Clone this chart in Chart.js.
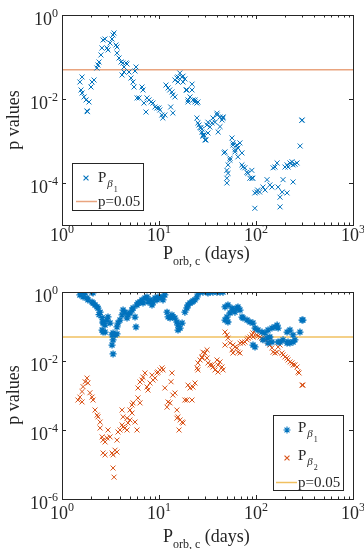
<!DOCTYPE html>
<html><head><meta charset="utf-8">
<script src="https://cdn.jsdelivr.net/npm/chart.js@4.4.0/dist/chart.umd.min.js"></script>
<style>
html,body{margin:0;padding:0;background:#fff;}
#wrap{position:relative;width:364px;height:549px;overflow:hidden;}
canvas{position:absolute;left:0;}
</style>
</head><body>
<div id="wrap">
<canvas id="c1" width="364" height="274" style="top:0px"></canvas>
<canvas id="c2" width="364" height="275" style="top:274px"></canvas>
</div>
<script>
// ---------------- DATA ----------------
const xTickValues = [1, 10, 100, 1000];
const xTickExponents = ['0', '1', '2', '3'];
const yTickValuesTop = [1, 1e-2, 1e-4];
const yTickExponentsTop = ['0', '-2', '-4'];
const yTickValuesBottom = [1, 1e-2, 1e-4, 1e-6];
const yTickExponentsBottom = ['0', '-2', '-4', '-6'];
const threshold = 0.05;

// top panel: p_beta1 vs orbital period
const topPeriod = [1.53,1.61,1.57,1.61,1.69,1.77,1.81,1.83,1.90,1.99,2.04,2.14,2.29,2.35,2.41,2.52,2.58,2.65,2.77,2.91,2.98,3.13,3.28,3.36,3.44,3.60,3.69,3.69,3.87,4.06,4.25,4.36,4.16,4.36,4.57,4.68,4.91,5.14,5.40,5.53,5.66,5.80,5.94,6.23,6.68,6.84,7.0,7.34,7.52,7.88,8.26,8.66,9.08,9.52,9.98,10.2,10.7,10.96,11.5,11.8,12.4,12.9,13.6,13.9,13.2,13.9,14.6,15.3,15.7,16.4,17.2,17.7,19.0,19.9,20.9,21.9,22.4,23.5,24.6,25.2,24.6,25.8,27.0,28.4,31.2,33.5,36.0,39.8,42.7,44.7,45.8,56.5,299,27.7,29.1,30.5,32.0,40.7,57.9,60.7,63.6,68.3,65.1,71.6,46.9,53.9,51.5,50.1,51.5,50.1,50.1,71.6,73.3,76.8,80.5,82.4,90.6,86.4,90.6,92.8,97.3,102,104,109,118,124,130,139,146,150,157,165,169,177,186,190,199,209,214,224,235,241,253,265,241,209,177,97.3,285,15.7,17.7,18.5,14.6,19.4,21.9,23.5,19.9,25.2,26.5,27.7,28.4,29.8,32.0,35.2,37.8,39.6,42.6,45.7,57.9,60.7,65.2,54.0,47.9,297];
const topPBeta1 = [0.0254,0.0334,0.0164,0.0139,0.0112,0.0095,0.0052,0.0050,0.0085,0.0193,0.0254,0.0283,0.0547,0.0645,0.076,0.112,0.164,0.254,0.268,0.164,0.147,0.215,0.268,0.334,0.373,0.193,0.173,0.124,0.0946,0.076,0.072,0.0578,0.0373,0.0439,0.072,0.068,0.0439,0.0316,0.0254,0.0193,0.0464,0.0578,0.0106,0.0106,0.0193,0.0164,0.008,0.0049,0.0106,0.0095,0.0085,0.008,0.00645,0.0061,0.0061,0.00547,0.00416,0.00353,0.00416,0.0215,0.0183,0.0164,0.0147,0.0125,0.00645,0.00464,0.0283,0.0316,0.0254,0.0416,0.0334,0.0254,0.0164,0.0095,0.0112,0.0164,0.0095,0.0095,0.008,0.0085,0.00353,0.0024,0.00204,0.00139,0.0024,0.00215,0.00353,0.00416,0.00373,0.00316,0.00373,0.00118,0.00316,0.00164,0.00139,0.00106,0.00155,0.00164,0.0009,0.00055,0.0008,0.0009,0.00042,0.00052,0.00052,0.00035,0.00027,0.0002,0.00017,0.00013,0.0001,0.00027,0.00024,0.00023,0.00018,0.00017,0.0002,0.00013,0.00013,0.00013,0.000058,0.000061,0.000068,0.000061,0.00008,0.000068,0.00012,0.00009,0.00008,0.00023,0.00024,0.0003,0.00008,0.000046,0.000061,0.00012,0.00024,0.00027,0.00024,0.0003,0.00032,0.00027,0.00028,0.0003,0.000106,0.000058,0.000027,0.000025,0.00076,0.0334,0.035,0.030,0.0112,0.0164,0.0226,0.0085,0.0085,0.0027,0.0021,0.0019,0.0013,0.00106,0.0028,0.0027,0.0028,0.0046,0.0022,0.0035,0.0008,0.00062,0.00068,0.00039,0.00055,0.0031];

// bottom panel: p_beta1 (stars)
const bottomPeriodB1 = [1.61,1.53,1.65,1.73,2.04,2.09,1.81,1.85,2.04,2.09,2.19,2.30,2.35,2.47,2.41,2.59,2.65,2.65,2.78,2.65,2.98,2.91,3.13,3.28,3.36,3.52,3.69,3.36,3.28,3.36,3.69,3.78,3.96,4.16,4.26,4.46,4.68,4.79,5.02,5.27,5.40,5.79,5.66,5.93,6.07,6.37,6.68,6.84,7.17,7.52,7.70,8.08,8.47,8.68,9.10,9.54,9.77,10.24,10.74,11.0,11.5,12.1,12.4,13.0,13.6,13.9,14.6,15.3,15.7,15.7,16.5,17.3,18.5,19.4,19.9,20.9,21.9,22.4,23.5,24.7,25.2,26.5,28.4,31.3,32.0,33.6,36.0,39.6,42.6,45.7,47.9,51.4,56.6,57.9,60.7,63.7,65.2,68.4,54.0,50.2,47.9,51.4,71.7,73.5,80.8,86.7,93.1,97.7,104.9,115.3,123.8,133,146,157,165,169,118,130,139,133,146,209,224,241,252,284,298,190,209,224,177,93.1,97.7,169,214,241,305,2.59,2.78];
const bottomPBeta1 = [0.99,0.82,0.72,0.94,0.99,0.94,0.67,0.59,0.51,0.48,0.42,0.37,0.34,0.26,0.22,0.18,0.135,0.126,0.11,0.069,0.19,0.154,0.126,0.057,0.065,0.057,0.061,0.041,0.029,0.016,0.097,0.126,0.154,0.216,0.30,0.26,0.176,0.216,0.246,0.30,0.344,0.097,0.188,0.42,0.48,0.51,0.59,0.48,0.67,0.72,0.51,0.59,0.42,0.51,0.67,0.59,0.72,0.67,0.72,0.59,0.82,0.26,0.19,0.176,0.216,0.19,0.176,0.135,0.11,0.079,0.09,0.126,0.26,0.344,0.42,0.48,0.51,0.55,0.59,0.72,0.94,0.99,0.99,0.995,0.94,0.99,0.99,0.98,0.99,0.99,0.37,0.42,0.34,0.30,0.26,0.34,0.37,0.30,0.246,0.188,0.154,0.135,0.188,0.176,0.154,0.135,0.126,0.09,0.079,0.069,0.065,0.079,0.09,0.097,0.11,0.09,0.041,0.046,0.0496,0.033,0.0355,0.069,0.079,0.057,0.041,0.069,0.154,0.041,0.033,0.033,0.0355,0.029,0.0255,0.0355,0.0355,0.0355,0.154,0.079,0.069];

// bottom panel: p_beta2 (crosses)
const bottomPeriodB2 = [1.81,1.85,1.73,1.65,1.61,1.53,1.46,1.61,1.94,2.04,2.09,2.19,2.30,2.35,2.47,2.47,2.59,2.65,2.78,2.91,2.98,3.13,2.78,2.65,3.28,3.36,3.52,3.69,3.36,3.44,3.69,3.78,3.96,4.16,4.26,4.46,4.68,4.79,4.26,4.16,4.68,5.02,5.02,5.27,5.40,5.27,5.66,5.93,6.07,6.37,6.07,6.37,6.68,6.84,7.17,7.52,7.70,8.08,8.47,8.68,9.10,9.54,9.77,10.24,10.74,11.0,11.5,12.1,12.4,13.0,13.6,13.3,13.9,14.6,15.3,15.3,15.7,16.5,17.3,16.1,17.7,18.5,19.4,19.9,20.9,21.9,22.4,23.5,24.7,25.2,26.5,27.8,28.4,29.8,31.3,32.0,33.6,36.0,37.8,39.6,40.6,42.6,25.2,27.8,35.2,40.6,44.6,45.7,47.9,50.2,47.9,51.4,54.0,56.6,57.9,60.7,63.7,65.2,68.4,57.9,68.4,71.7,73.5,77.0,80.8,82.7,86.7,91.0,93.1,97.7,93.1,102,105,110,115,118,124,130,133,139,146,150,157,165,169,177,185,190,199,209,214,224,235,241,252,265,271,278,298,305,31.3];
const bottomPBeta2 = [0.0032,0.0023,0.0025,0.0018,0.0013,0.0009,0.00074,0.00065,0.0012,0.0009,0.00074,0.00038,0.00027,0.00024,0.00017,0.000114,0.000063,0.000051,0.000045,0.000059,0.0001,0.000063,0.000019,0.0000215,0.0000215,0.000019,0.000026,0.000023,0.0000079,0.0000043,0.000051,0.0000875,0.0001,0.00014,0.000122,0.000114,0.0001,0.00016,0.00024,0.00038,0.00022,0.000195,0.00038,0.00053,0.00061,0.00031,0.00017,0.0001,0.00085,0.00061,0.00165,0.00246,0.0028,0.0034,0.0045,0.00176,0.00144,0.0023,0.0039,0.0028,0.0032,0.0045,0.0048,0.0055,0.0063,0.0055,0.00165,0.00046,0.00065,0.00061,0.0045,0.0025,0.00103,0.00118,0.00038,0.00022,0.00024,0.000195,0.00017,0.0001,0.00016,0.00074,0.00074,0.002,0.00165,0.00074,0.00176,0.0023,0.0063,0.0088,0.0107,0.0122,0.018,0.017,0.0122,0.0088,0.0077,0.0067,0.0055,0.0107,0.0077,0.0094,0.0055,0.0131,0.0077,0.0048,0.0067,0.0055,0.069,0.057,0.029,0.046,0.033,0.021,0.017,0.0255,0.024,0.018,0.017,0.029,0.033,0.0355,0.033,0.0355,0.041,0.046,0.0496,0.057,0.065,0.079,0.0496,0.057,0.053,0.0496,0.046,0.043,0.041,0.046,0.0355,0.029,0.024,0.018,0.017,0.018,0.0255,0.029,0.017,0.015,0.0131,0.0122,0.0107,0.0094,0.0088,0.0077,0.0077,0.0067,0.0048,0.0045,0.002,0.002,0.021];

// ---------------- STYLE ----------------
const BLUE = '#0072BD';
const ORANGE = '#D95319';
const AXIS = '#262626';
const SERIF = '"Liberation Serif", "Times New Roman", serif';

function pts(xs, ys) { return xs.map((x, i) => ({ x: x, y: ys[i] })); }

function drawMarker(ctx, style, x, y, r, color, lw) {
  ctx.save();
  ctx.strokeStyle = color; ctx.lineWidth = lw;
  ctx.beginPath();
  const d = r * Math.SQRT1_2;
  ctx.moveTo(x - d, y - d); ctx.lineTo(x + d, y + d);
  ctx.moveTo(x - d, y + d); ctx.lineTo(x + d, y - d);
  if (style === 'star') {
    ctx.moveTo(x - r, y); ctx.lineTo(x + r, y);
    ctx.moveTo(x, y - r); ctx.lineTo(x, y + r);
  }
  ctx.stroke();
  ctx.restore();
}

function drawPowerLabel(ctx, exp, x, baseY, align) {
  ctx.font = '18px ' + SERIF;
  const w1 = ctx.measureText('10').width;
  ctx.font = '12px ' + SERIF;
  const w2 = ctx.measureText(exp).width;
  const w = w1 + w2;
  let sx = align === 'center' ? x - w / 2 : x - w;
  ctx.font = '18px ' + SERIF;
  ctx.fillText('10', sx, baseY);
  ctx.font = '12px ' + SERIF;
  ctx.fillText(exp, sx + w1, baseY - 8);
}

function makeAxesPlugin(cfg) {
  return {
    id: 'axesDecor',
    afterDraw(chart) {
      const ctx = chart.ctx;
      const a = chart.chartArea;
      const xs = chart.scales.x, ys = chart.scales.y;
      ctx.save();
      ctx.strokeStyle = AXIS; ctx.lineWidth = 1;
      ctx.strokeRect(Math.round(a.left) + 0.5, Math.round(a.top) + 0.5, Math.round(a.right - a.left), Math.round(a.bottom - a.top));
      ctx.beginPath();
      for (let d = 0; d < xTickValues.length; d++) {
        const px = Math.round(xs.getPixelForValue(xTickValues[d])) + 0.5;
        ctx.moveTo(px, a.bottom); ctx.lineTo(px, a.bottom - 4);
        ctx.moveTo(px, a.top); ctx.lineTo(px, a.top + 4);
        if (d < xTickValues.length - 1) {
          for (let m = 2; m <= 9; m++) {
            const pm = Math.round(xs.getPixelForValue(xTickValues[d] * m)) + 0.5;
            ctx.moveTo(pm, a.bottom); ctx.lineTo(pm, a.bottom - 2.5);
            ctx.moveTo(pm, a.top); ctx.lineTo(pm, a.top + 2.5);
          }
        }
      }
      cfg.yTicks.forEach(v => {
        const py = Math.round(ys.getPixelForValue(v)) + 0.5;
        ctx.moveTo(a.left, py); ctx.lineTo(a.left + 4, py);
        ctx.moveTo(a.right, py); ctx.lineTo(a.right - 4, py);
      });
      ctx.stroke();

      ctx.fillStyle = AXIS;
      ctx.textBaseline = 'alphabetic';
      xTickValues.forEach((v, i) => {
        drawPowerLabel(ctx, xTickExponents[i], xs.getPixelForValue(v), a.bottom + cfg.xLabelOffset, 'center');
      });
      cfg.yTicks.forEach((v, i) => {
        drawPowerLabel(ctx, cfg.yExps[i], a.left - 4, ys.getPixelForValue(v) + 10, 'right');
      });

      const t = cfg.xTitle;
      ctx.font = '18px ' + SERIF;
      ctx.fillText('P', t.x, t.y);
      const wp = ctx.measureText('P').width;
      ctx.font = '12px ' + SERIF;
      ctx.fillText('orb, c', t.x + wp, t.y + 6);
      const ws = ctx.measureText('orb, c').width;
      ctx.font = '18px ' + SERIF;
      ctx.fillText(' (days)', t.x + wp + ws, t.y);

      ctx.save();
      ctx.translate(cfg.yTitle.x, cfg.yTitle.y);
      ctx.rotate(-Math.PI / 2);
      ctx.textAlign = 'center';
      ctx.font = '18px ' + SERIF;
      ctx.fillText('p values', 0, 0);
      ctx.restore();

      const L = cfg.legend;
      ctx.fillStyle = '#fff';
      ctx.fillRect(L.x, L.y, L.w, L.h);
      ctx.strokeStyle = AXIS; ctx.lineWidth = 1;
      ctx.strokeRect(L.x + 0.5, L.y + 0.5, L.w, L.h);
      L.items.forEach(it => {
        if (it.kind === 'marker') {
          drawMarker(ctx, it.style, it.mx, it.my, 3.5, it.color, 1.1);
          ctx.fillStyle = AXIS;
          ctx.font = '15px ' + SERIF;
          ctx.fillText('P', it.tx, it.ty);
          const w0 = ctx.measureText('P').width;
          ctx.font = 'italic 11px ' + SERIF;
          ctx.fillText('\u03B2', it.tx + w0 + 1, it.ty + 5);
          const wb = ctx.measureText('\u03B2').width;
          ctx.font = '8px ' + SERIF;
          ctx.fillText(it.sub, it.tx + w0 + 1 + wb + 1, it.ty + 10);
        } else {
          ctx.strokeStyle = it.color; ctx.lineWidth = 1.5;
          ctx.beginPath(); ctx.moveTo(it.x1, it.ly); ctx.lineTo(it.x2, it.ly); ctx.stroke();
          ctx.fillStyle = AXIS;
          ctx.font = '15px ' + SERIF;
          ctx.fillText(it.label, it.tx, it.ty);
        }
      });
      ctx.restore();
    }
  };
}

function baseOptions(padding, yMin) {
  return {
    responsive: false,
    animation: false,
    devicePixelRatio: 1,
    layout: { padding: padding },
    plugins: { legend: { display: false }, tooltip: { enabled: false } },
    scales: {
      x: { type: 'logarithmic', min: 1, max: 1000, display: false },
      y: { type: 'logarithmic', min: yMin, max: 1, display: false }
    }
  };
}

new Chart(document.getElementById('c1'), {
  type: 'scatter',
  data: {
    datasets: [
      { label: 'p_beta1', data: pts(topPeriod, topPBeta1), pointStyle: 'crossRot', pointRadius: 3.5, borderColor: BLUE, backgroundColor: BLUE, pointBorderWidth: 1 },
      { label: 'p=0.05', type: 'line', data: [{ x: 1, y: threshold }, { x: 1000, y: threshold }], borderColor: '#E9A47F', borderWidth: 1.5, pointRadius: 0, showLine: true }
    ]
  },
  options: baseOptions({ left: 62, right: 11, top: 15, bottom: 49 }, 1e-5),
  plugins: [makeAxesPlugin({
    yTicks: yTickValuesTop, yExps: yTickExponentsTop, xLabelOffset: 16,
    xTitle: { x: 163, y: 259 }, yTitle: { x: 19, y: 120 },
    legend: { x: 72, y: 163, w: 71, h: 47, items: [
      { kind: 'marker', style: 'crossRot', color: BLUE, mx: 86, my: 178, tx: 98, ty: 182, sub: '1' },
      { kind: 'line', color: '#E9A47F', x1: 76, x2: 97, ly: 201.5, label: 'p=0.05', tx: 98, ty: 206 }
    ] }
  })]
});

new Chart(document.getElementById('c2'), {
  type: 'scatter',
  data: {
    datasets: [
      { label: 'p_beta1', data: pts(bottomPeriodB1, bottomPBeta1), pointStyle: 'star', pointRadius: 3.5, borderColor: BLUE, backgroundColor: BLUE, pointBorderWidth: 1.3 },
      { label: 'p_beta2', data: pts(bottomPeriodB2, bottomPBeta2), pointStyle: 'crossRot', pointRadius: 3.5, borderColor: ORANGE, backgroundColor: ORANGE, pointBorderWidth: 1 },
      { label: 'p=0.05', type: 'line', data: [{ x: 1, y: threshold }, { x: 1000, y: threshold }], borderColor: '#F0C060', borderWidth: 1.5, pointRadius: 0, showLine: true }
    ]
  },
  options: baseOptions({ left: 62, right: 11, top: 18, bottom: 50 }, 1e-6),
  plugins: [makeAxesPlugin({
    yTicks: yTickValuesBottom, yExps: yTickExponentsBottom, xLabelOffset: 20,
    xTitle: { x: 163, y: 268 }, yTitle: { x: 19, y: 121 },
    legend: { x: 273, y: 141, w: 70, h: 75, items: [
      { kind: 'marker', style: 'star', color: BLUE, mx: 287, my: 156, tx: 298, ty: 158, sub: '1' },
      { kind: 'marker', style: 'crossRot', color: ORANGE, mx: 287, my: 184, tx: 298, ty: 186, sub: '2' },
      { kind: 'line', color: '#F0C060', x1: 276, x2: 297, ly: 208.5, label: 'p=0.05', tx: 298, ty: 213 }
    ] }
  })]
});
</script>
</body></html>
